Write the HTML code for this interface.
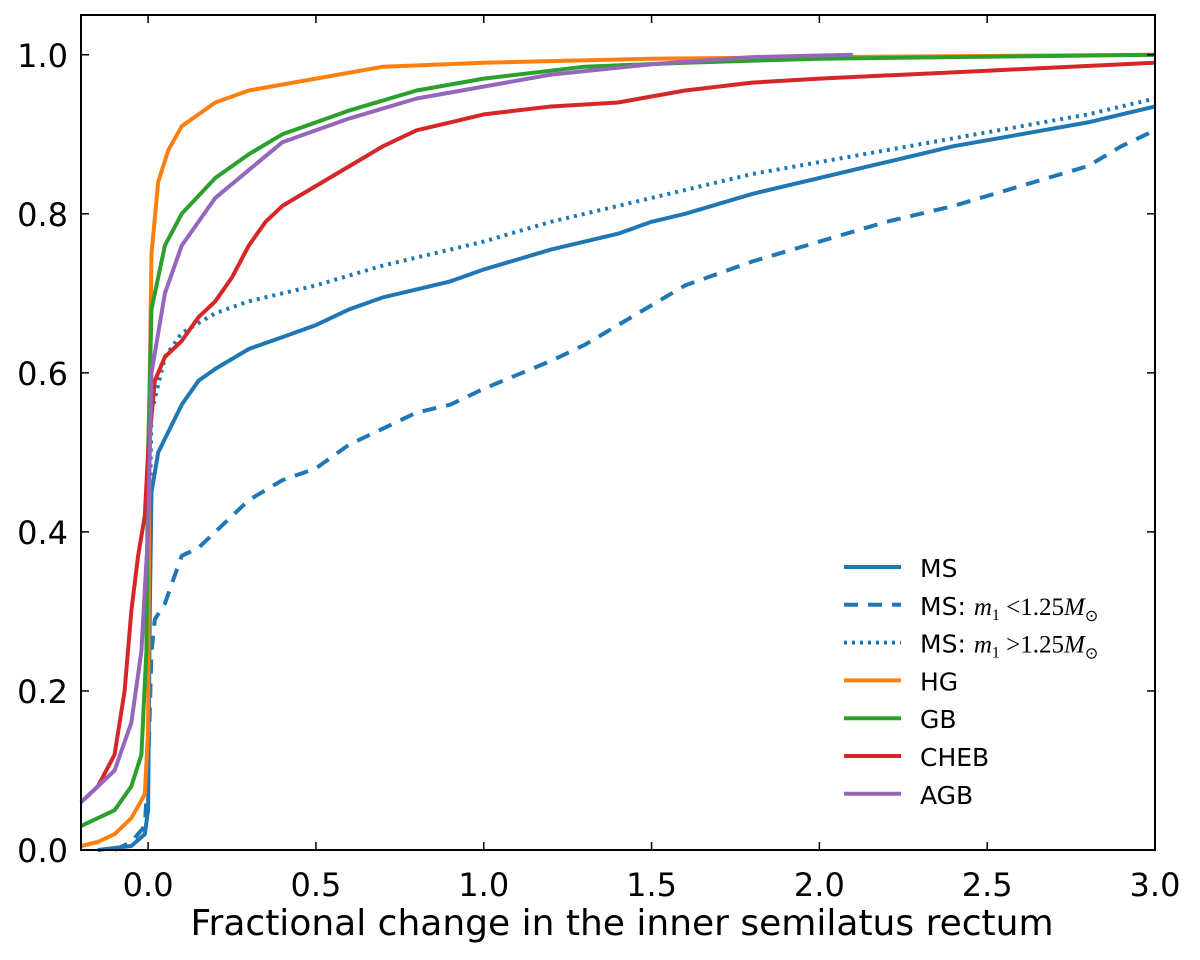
<!DOCTYPE html>
<html><head><meta charset="utf-8"><style>
html,body{margin:0;padding:0;background:#fff;}
svg{display:block;font-family:"DejaVu Sans","Liberation Sans",sans-serif;}
</style></head><body>
<svg id="chart" width="1200" height="960" xmlns="http://www.w3.org/2000/svg">
<g id="lines"></g>
<g id="axes"></g>
<g id="legend"></g>
</svg>
<script>
const xTicks=[-0.2,0.0,0.5,1.0,1.5,2.0,2.5,3.0];
const xTickLabels=["","0.0","0.5","1.0","1.5","2.0","2.5","3.0"];
const yTicks=[0,0.2,0.4,0.6,0.8,1.0];
const yTickLabels=["0.0","0.2","0.4","0.6","0.8","1.0"];
const msX=[-0.15,-0.05,-0.01,0,0.005,0.01,0.03,0.1,0.15,0.2,0.3,0.4,0.5,0.6,0.7,0.8,0.9,1.0,1.2,1.4,1.5,1.6,1.8,2.0,2.2,2.4,2.6,2.8,3.0];
const msY=[0,0.005,0.02,0.05,0.3,0.45,0.5,0.56,0.59,0.605,0.63,0.645,0.66,0.68,0.695,0.705,0.715,0.73,0.755,0.775,0.79,0.8,0.825,0.845,0.865,0.885,0.9,0.915,0.935];
const msLoX=[-0.1,-0.05,-0.01,0,0.01,0.02,0.05,0.1,0.15,0.2,0.3,0.4,0.5,0.6,0.7,0.8,0.9,1.0,1.2,1.3,1.4,1.6,1.8,2.0,2.2,2.4,2.6,2.8,2.9,3.0];
const msLoY=[0,0.01,0.03,0.1,0.25,0.29,0.31,0.37,0.38,0.4,0.44,0.465,0.48,0.51,0.53,0.55,0.56,0.58,0.615,0.635,0.66,0.71,0.74,0.765,0.79,0.81,0.835,0.86,0.885,0.905];
const msHiX=[0,0.01,0.05,0.1,0.2,0.3,0.5,0.7,0.9,1.0,1.2,1.4,1.6,1.8,2.0,2.2,2.4,2.6,2.8,3.0];
const msHiY=[0.3,0.55,0.62,0.65,0.675,0.69,0.71,0.735,0.755,0.765,0.79,0.81,0.83,0.85,0.865,0.88,0.895,0.91,0.925,0.945];
const hgX=[-0.2,-0.15,-0.1,-0.05,-0.01,0,0.005,0.01,0.03,0.06,0.1,0.2,0.3,0.5,0.7,1.0,1.5,2.0,3.0];
const hgY=[0.005,0.01,0.02,0.04,0.07,0.15,0.6,0.75,0.84,0.88,0.91,0.94,0.955,0.97,0.985,0.99,0.995,0.997,1.0];
const gbX=[-0.2,-0.1,-0.05,-0.02,-0.005,0,0.01,0.05,0.1,0.2,0.3,0.4,0.5,0.6,0.8,1.0,1.3,1.6,2.0,3.0];
const gbY=[0.03,0.05,0.08,0.12,0.25,0.5,0.68,0.76,0.8,0.845,0.875,0.9,0.915,0.93,0.955,0.97,0.985,0.99,0.995,1.0];
const chebX=[-0.2,-0.15,-0.1,-0.07,-0.05,-0.03,-0.01,0,0.02,0.05,0.1,0.15,0.2,0.25,0.3,0.35,0.4,0.5,0.6,0.7,0.8,0.9,1.0,1.2,1.4,1.6,1.8,2.0,2.5,3.0];
const chebY=[0.06,0.08,0.12,0.2,0.3,0.37,0.42,0.5,0.59,0.62,0.64,0.67,0.69,0.72,0.76,0.79,0.81,0.835,0.86,0.885,0.905,0.915,0.925,0.935,0.94,0.955,0.965,0.97,0.98,0.99];
const agbX=[-0.2,-0.1,-0.05,-0.02,0,0.01,0.05,0.1,0.2,0.3,0.4,0.5,0.6,0.8,1.0,1.2,1.5,1.8,2.1];
const agbY=[0.06,0.1,0.16,0.25,0.4,0.6,0.7,0.76,0.82,0.855,0.89,0.905,0.92,0.945,0.96,0.975,0.988,0.997,1.0];

const L=81,R=1155,T=15,B=850,X0=-0.2,X1=3.0,Y0=0,Y1=1.05;
const sx=v=>L+(v-X0)/(X1-X0)*(R-L);
const sy=v=>B-(v-Y0)/(Y1-Y0)*(B-T);
const NS="http://www.w3.org/2000/svg";
function mk(tag,attrs,parent){const e=document.createElementNS(NS,tag);for(const k in attrs)e.setAttribute(k,attrs[k]);parent.appendChild(e);return e;}
const lines=document.getElementById('lines'),axes=document.getElementById('axes'),legend=document.getElementById('legend');
const series=[
 {n:'ms-line',x:msX,y:msY,c:'#1f77b4',d:''},
 {n:'ms-low-mass-line',x:msLoX,y:msLoY,c:'#1f77b4',d:'14,10'},
 {n:'ms-high-mass-line',x:msHiX,y:msHiY,c:'#1f77b4',d:'3,5'},
 {n:'hg-line',x:hgX,y:hgY,c:'#ff7f0e',d:''},
 {n:'gb-line',x:gbX,y:gbY,c:'#2ca02c',d:''},
 {n:'cheb-line',x:chebX,y:chebY,c:'#d62728',d:''},
 {n:'agb-line',x:agbX,y:agbY,c:'#9467bd',d:''}
];
series.forEach(s=>{
 const pts=s.x.map((v,i)=>sx(v).toFixed(1)+','+sy(s.y[i]).toFixed(1)).join(' ');
 const p=mk('polyline',{points:pts,fill:'none',stroke:s.c,'stroke-width':4,'stroke-linejoin':'round'},lines);
 if(s.d)p.setAttribute('stroke-dasharray',s.d);
 
 
});
const frame=mk('rect',{x:L,y:T,width:R-L,height:B-T,fill:'none',stroke:'#000','stroke-width':2},axes);


xTicks.forEach((v,i)=>{
 const x=sx(v);
 mk('line',{x1:x,x2:x,y1:B,y2:B-8,stroke:'#000','stroke-width':1.5},axes);
 mk('line',{x1:x,x2:x,y1:T,y2:T+8,stroke:'#000','stroke-width':1.5},axes);
 const t=mk('text',{x:x,y:B+46,'text-anchor':'middle','font-size':32},axes);
 t.textContent=xTickLabels[i];
 
 
});
yTicks.forEach((v,i)=>{
 const y=sy(v);
 mk('line',{x1:L,x2:L+8,y1:y,y2:y,stroke:'#000','stroke-width':1.5},axes);
 mk('line',{x1:R,x2:R-8,y1:y,y2:y,stroke:'#000','stroke-width':1.5},axes);
 const t=mk('text',{x:L-13,y:y+12,'text-anchor':'end','font-size':32},axes);
 t.textContent=yTickLabels[i];
 
 
});
const xl=mk('text',{x:622,y:935,'text-anchor':'middle','font-size':36},axes);
xl.textContent='Fractional change in the inner semilatus rectum';


const leg=[
 {c:'#1f77b4',d:'',t:'MS'},
 {c:'#1f77b4',d:'14,10',t:'MS: <tspan font-family="Liberation Serif" font-style="italic">m</tspan><tspan font-family="Liberation Serif" font-size="16" dy="5">1</tspan><tspan font-family="Liberation Serif" dy="-5"> &lt;1.25</tspan><tspan font-family="Liberation Serif" font-style="italic">M</tspan><tspan font-size="16" dy="6">⊙</tspan>'},
 {c:'#1f77b4',d:'3,5',t:'MS: <tspan font-family="Liberation Serif" font-style="italic">m</tspan><tspan font-family="Liberation Serif" font-size="16" dy="5">1</tspan><tspan font-family="Liberation Serif" dy="-5"> &gt;1.25</tspan><tspan font-family="Liberation Serif" font-style="italic">M</tspan><tspan font-size="16" dy="6">⊙</tspan>'},
 {c:'#ff7f0e',d:'',t:'HG'},
 {c:'#2ca02c',d:'',t:'GB'},
 {c:'#d62728',d:'',t:'CHEB'},
 {c:'#9467bd',d:'',t:'AGB'}
];
leg.forEach((e,i)=>{
 const y=567+i*37.8;
 const g=mk('g',{},legend);
 
 
 const l=mk('line',{x1:844,x2:901,y1:y,y2:y,stroke:e.c,'stroke-width':4},g);
 if(e.d)l.setAttribute('stroke-dasharray',e.d);
 const t=mk('text',{x:920,y:y+10,'font-size':25},g);
 t.innerHTML=e.t;
});
</script>
</body></html>
